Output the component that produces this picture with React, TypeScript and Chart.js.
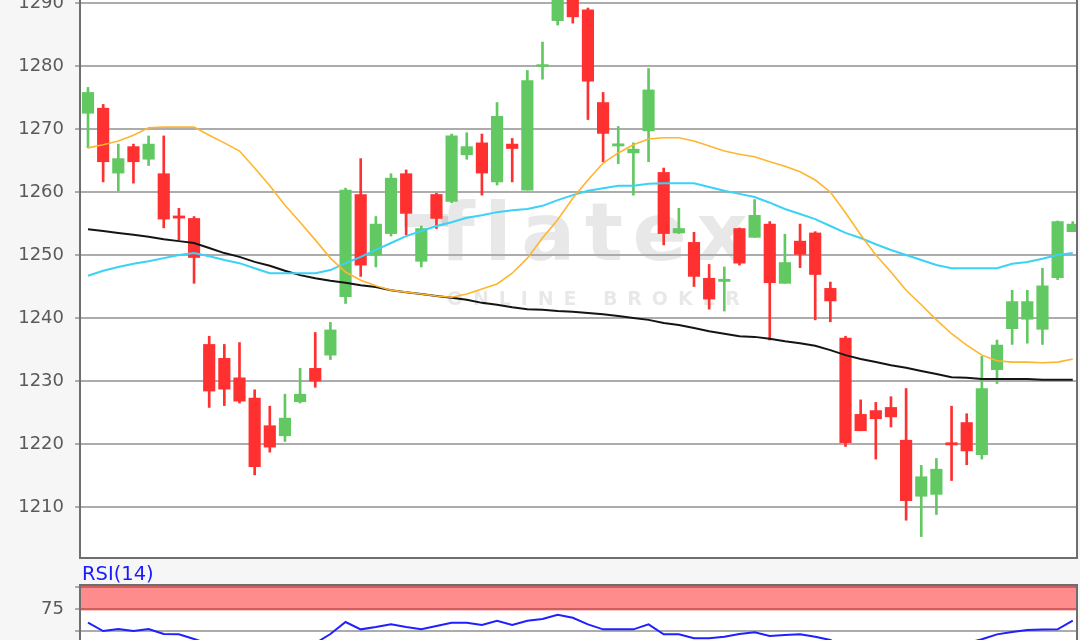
import React, { useEffect, useRef } from 'react';
import { Chart, registerables } from 'chart.js';
Chart.register(...registerables);

// ---- data ----
const opens = [1272.5, 1273.3, 1263.0, 1267.2, 1265.2, 1262.9, 1256.2, 1255.8, 1235.8, 1233.6, 1230.5, 1227.3, 1222.9, 1221.3, 1226.7, 1232.0, 1234.1, 1243.4, 1259.6, 1250.0, 1253.4, 1262.9, 1249.0, 1259.6, 1258.5, 1265.9, 1267.8, 1261.6, 1267.6, 1260.3, 1279.9, 1287.2, 1293.0, 1288.9, 1274.2, 1267.3, 1266.2, 1269.7, 1263.1, 1253.5, 1252.0, 1246.3, 1245.8, 1254.2, 1252.8, 1254.9, 1245.5, 1252.2, 1253.5, 1244.7, 1236.8, 1224.7, 1225.3, 1225.8, 1220.6, 1211.7, 1212.0, 1220.2, 1223.4, 1218.3, 1231.8, 1238.3, 1239.8, 1238.2, 1246.4, 1253.7];
const highs = [1276.6, 1273.9, 1267.6, 1267.6, 1268.9, 1268.9, 1257.4, 1256.1, 1237.1, 1235.8, 1236.1, 1228.6, 1226.0, 1227.9, 1232.0, 1237.7, 1239.3, 1260.6, 1265.3, 1256.1, 1262.9, 1263.5, 1254.6, 1259.8, 1269.2, 1269.4, 1269.2, 1274.2, 1268.5, 1279.3, 1283.8, 1294.0, 1295.0, 1289.2, 1275.8, 1270.4, 1267.8, 1279.6, 1263.8, 1257.4, 1253.6, 1248.5, 1248.1, 1254.3, 1258.8, 1255.3, 1253.3, 1254.9, 1253.7, 1245.7, 1237.1, 1227.0, 1226.6, 1227.5, 1228.8, 1216.6, 1217.7, 1226.0, 1224.8, 1233.9, 1236.5, 1244.4, 1244.4, 1247.9, 1255.4, 1255.3];
const lows = [1267.0, 1261.6, 1260.2, 1261.4, 1264.2, 1254.3, 1252.4, 1245.5, 1225.8, 1226.1, 1226.5, 1215.1, 1218.7, 1220.4, 1226.5, 1229.0, 1233.4, 1242.3, 1246.6, 1248.1, 1253.0, 1253.2, 1248.1, 1254.2, 1258.3, 1265.2, 1259.5, 1261.1, 1261.6, 1260.3, 1277.9, 1286.5, 1286.8, 1271.5, 1264.8, 1264.5, 1259.5, 1264.8, 1251.6, 1253.4, 1245.0, 1241.4, 1241.1, 1248.4, 1252.8, 1236.5, 1245.5, 1248.0, 1239.7, 1239.4, 1219.6, 1222.1, 1217.6, 1222.7, 1207.9, 1205.3, 1208.8, 1214.2, 1216.7, 1217.6, 1229.6, 1235.8, 1236.0, 1235.8, 1246.1, 1253.7];
const closes = [1275.8, 1264.8, 1265.3, 1264.8, 1267.6, 1255.7, 1255.85, 1249.6, 1228.4, 1228.7, 1226.8, 1216.4, 1219.5, 1224.1, 1227.9, 1230.0, 1238.1, 1260.3, 1248.4, 1254.9, 1262.2, 1256.6, 1254.2, 1255.8, 1268.9, 1267.2, 1263.0, 1272.0, 1266.9, 1277.7, 1280.2, 1292.5, 1287.8, 1277.6, 1269.3, 1267.65, 1266.8, 1276.2, 1253.4, 1254.2, 1246.6, 1243.0, 1246.15, 1248.7, 1256.3, 1245.6, 1248.8, 1250.1, 1246.9, 1242.7, 1220.2, 1222.1, 1224.0, 1224.3, 1211.0, 1214.8, 1216.0, 1219.85, 1218.9, 1228.8, 1235.7, 1242.6, 1242.6, 1245.1, 1255.3, 1254.9];
const maOrange = [1267.0, 1267.5, 1268.1, 1269.0, 1270.2, 1270.3, 1270.3, 1270.3, 1269.0, 1267.8, 1266.5, 1263.8, 1261.0, 1257.9, 1255.2, 1252.4, 1249.5, 1247.3, 1246.0, 1245.1, 1244.4, 1244.1, 1243.8, 1243.5, 1243.3, 1243.8, 1244.6, 1245.4, 1247.1, 1249.5, 1252.7, 1255.6, 1259.0, 1261.9, 1264.6, 1266.2, 1267.5, 1268.4, 1268.6, 1268.6, 1268.1, 1267.3, 1266.5, 1266.0, 1265.6, 1264.8, 1264.1, 1263.2, 1261.9, 1260.0, 1256.7, 1253.2, 1250.0, 1247.3, 1244.4, 1242.1, 1239.7, 1237.5, 1235.7, 1234.1, 1233.2, 1233.0, 1233.0, 1232.9, 1233.0, 1233.5];
const maCyan = [1246.7, 1247.5, 1248.1, 1248.6, 1249.0, 1249.5, 1250.0, 1250.3, 1249.8, 1249.2, 1248.7, 1247.9, 1247.1, 1247.1, 1247.1, 1247.1, 1247.6, 1248.7, 1249.7, 1250.8, 1251.9, 1253.0, 1253.8, 1254.6, 1255.2, 1255.9, 1256.3, 1256.8, 1257.1, 1257.3, 1257.8, 1258.7, 1259.5, 1260.2, 1260.6, 1261.0, 1261.0, 1261.3, 1261.4, 1261.4, 1261.4, 1260.8, 1260.2, 1259.7, 1259.2, 1258.3, 1257.3, 1256.5, 1255.7, 1254.6, 1253.5, 1252.7, 1251.7, 1250.8, 1250.0, 1249.2, 1248.4, 1247.9, 1247.9, 1247.9, 1247.9, 1248.6, 1248.9, 1249.4, 1250.0, 1250.3];
const maBlack = [1254.1, 1253.8, 1253.5, 1253.2, 1252.9, 1252.5, 1252.2, 1251.9, 1251.1, 1250.3, 1249.7, 1248.9, 1248.3, 1247.5, 1246.8, 1246.3, 1245.9, 1245.6, 1245.2, 1244.9, 1244.4, 1244.1, 1243.8, 1243.5, 1243.2, 1242.9, 1242.4, 1242.1, 1241.7, 1241.4, 1241.3, 1241.1, 1241.0, 1240.8, 1240.6, 1240.3, 1240.0, 1239.7, 1239.2, 1238.9, 1238.4, 1237.9, 1237.5, 1237.1, 1237.0, 1236.7, 1236.3, 1236.0, 1235.6, 1234.9, 1234.1, 1233.5, 1233.0, 1232.5, 1232.1, 1231.6, 1231.1, 1230.6, 1230.5, 1230.3, 1230.3, 1230.3, 1230.3, 1230.2, 1230.2, 1230.2];
const rsi = [59.4, 50.0, 52.3, 50.0, 52.3, 46.6, 46.2, 40.9, 35, 33, 32, 28, 26, 30, 33, 36, 46.6, 60.2, 51.9, 54.5, 57.6, 54.5, 51.9, 55.7, 59.4, 59.4, 56.8, 61.7, 56.8, 61.7, 63.6, 68.5, 65.1, 57.6, 51.9, 51.9, 51.9, 57.6, 46.2, 46.2, 41.7, 41.7, 43.5, 46.6, 48.5, 44.3, 45.5, 46.2, 43.5, 39.8, 30, 31, 30, 30, 27, 28, 30, 32, 36, 40.6, 46.2, 48.9, 51.1, 51.7, 51.9, 61.7, 61.7];
const priceTicks = [1210, 1220, 1230, 1240, 1250, 1260, 1270, 1280, 1290];
const rsiTicks = [25, 50, 75, 100];
const rsiTickLabels = [25, 75];
const rsiZone = [75, 100];
const rsiTitle = 'RSI(14)';
const watermarkMain = 'flatex';
const watermarkSub = 'ONLINE BROKER';

// ---- styling ----
const UP = '#62c862';
const DOWN = '#ff3030';
const BG = '#f6f6f6';
const GRID = '#acacac';
const BORDER = '#6e6e6e';
const LABEL = '#5a5a5a';
const FONT = 'DejaVu Sans';
const MAIN_TOP = -50; // canvas offset on page
const PAD = 30;

const xScale = { type: 'linear', min: -0.528, max: 65.28, display: false, offset: false };

function frame(key: string) {
  return {
    id: 'frame' + key,
    beforeDraw(chart: any) {
      const { ctx, chartArea: a } = chart;
      ctx.save();
      ctx.fillStyle = '#ffffff';
      ctx.fillRect(a.left, a.top, a.right - a.left, a.bottom - a.top);
      ctx.restore();
    },
    afterDraw(chart: any) {
      const { ctx, chartArea: a } = chart;
      ctx.save();
      ctx.strokeStyle = BORDER;
      ctx.lineWidth = 2;
      ctx.strokeRect(a.left, a.top, a.right - a.left, a.bottom - a.top);
      ctx.restore();
    },
  };
}

function spacedText(ctx: CanvasRenderingContext2D, text: string, left: number, width: number, baseline: number) {
  (ctx as any).letterSpacing = '0px';
  const w = ctx.measureText(text).width;
  const n = Array.from(text).length;
  const sp = (width - w) / (n - 1);
  (ctx as any).letterSpacing = sp + 'px';
  ctx.textAlign = 'left';
  ctx.textBaseline = 'alphabetic';
  ctx.fillText(text, left, baseline);
  (ctx as any).letterSpacing = '0px';
}

const watermark = {
  id: 'watermark',
  beforeDraw(chart: any) {
    const { ctx, chartArea: a } = chart;
    ctx.save();
    ctx.beginPath();
    ctx.rect(a.left, a.top, a.right - a.left, a.bottom - a.top);
    ctx.clip();
    ctx.fillStyle = 'rgba(0,0,0,0.09)';
    // extended crossbar of the logo's "f"
    ctx.fillRect(404, 214 - MAIN_TOP, 44, 13);
    ctx.font = `bold 80px "${FONT}"`;
    spacedText(ctx, watermarkMain, 440, 305, 260 - MAIN_TOP);
    ctx.font = `bold 19px "${FONT}"`;
    spacedText(ctx, watermarkSub, 447, 293, 305 - MAIN_TOP);
    ctx.restore();
  },
};

const rsiBand = {
  id: 'rsiBand',
  beforeDatasetsDraw(chart: any) {
    const { ctx, chartArea: a, scales } = chart;
    const y1 = scales.y.getPixelForValue(rsiZone[1]);
    const y0 = scales.y.getPixelForValue(rsiZone[0]);
    ctx.save();
    ctx.fillStyle = 'rgba(255,0,0,0.45)';
    ctx.fillRect(a.left, y1 - 1.5, a.right - a.left, y0 - y1 + 3);
    ctx.restore();
  },
};

export default function App() {
  const mainRef = useRef<HTMLCanvasElement>(null);
  const rsiRef = useRef<HTMLCanvasElement>(null);

  useEffect(() => {
    const idx = opens.map((_, i) => i);
    const colors = idx.map((i) => (closes[i] >= opens[i] ? UP : DOWN));
    const line = (vals: number[], color: string, w: number) => ({
      type: 'line' as const,
      data: idx.map((i) => ({ x: i, y: vals[i] })),
      borderColor: color,
      borderWidth: w,
      pointRadius: 0,
      tension: 0,
      fill: false,
      order: 0,
    });

    const main = new Chart(mainRef.current!, {
      type: 'bar',
      data: {
        datasets: [
          line(maOrange, '#ffb52e', 1.6),
          line(maCyan, '#3ad2f7', 2),
          line(maBlack, '#141414', 2),
          {
            type: 'bar',
            data: idx.map((i) => ({ x: i, y: [opens[i], closes[i]] })),
            backgroundColor: colors,
            borderWidth: 0,
            barThickness: 11.5,
            minBarLength: 2,
            grouped: false,
            order: 1,
          } as any,
          {
            type: 'bar',
            data: idx.map((i) => ({ x: i, y: [lows[i], highs[i]] })),
            backgroundColor: colors,
            borderWidth: 0,
            barThickness: 2,
            grouped: false,
            order: 2,
          } as any,
        ],
      },
      options: {
        responsive: false,
        animation: false,
        devicePixelRatio: 1,
        events: [],
        layout: { padding: { top: PAD, bottom: PAD, left: 0, right: 3 } },
        plugins: { legend: { display: false }, tooltip: { enabled: false } },
        scales: {
          x: xScale as any,
          y: {
            type: 'linear',
            min: 1201.9,
            max: 1293.65,
            afterBuildTicks: (s: any) => {
              s.ticks = priceTicks.map((v) => ({ value: v }));
            },
            afterFit: (s: any) => {
              s.width = 80;
            },
            ticks: {
              callback: (v: any) => String(v),
              color: LABEL,
              font: { family: FONT, size: 18 },
              padding: 11,
            },
            grid: { color: GRID, lineWidth: 2, tickLength: 5, drawTicks: true },
            border: { display: false },
          },
        },
      },
      plugins: [frame('Main'), watermark],
    });

    const rsiChart = new Chart(rsiRef.current!, {
      type: 'line',
      data: {
        datasets: [
          {
            data: idx.map((i) => ({ x: i, y: rsi[i] })),
            borderColor: '#1f1fff',
            borderWidth: 2,
            pointRadius: 0,
            tension: 0,
            fill: false,
          },
        ],
      },
      options: {
        responsive: false,
        animation: false,
        devicePixelRatio: 1,
        events: [],
        layout: { padding: { top: PAD, bottom: PAD, left: 0, right: 3 } },
        plugins: { legend: { display: false }, tooltip: { enabled: false } },
        scales: {
          x: xScale as any,
          y: {
            type: 'linear',
            min: 0,
            max: 102.3,
            afterBuildTicks: (s: any) => {
              s.ticks = rsiTicks.map((v) => ({ value: v }));
            },
            afterFit: (s: any) => {
              s.width = 80;
            },
            ticks: {
              callback: (v: any) => (rsiTickLabels.includes(Number(v)) ? String(v) : ''),
              color: LABEL,
              font: { family: FONT, size: 18 },
              padding: 11,
            },
            grid: { color: GRID, lineWidth: 2, tickLength: 5, drawTicks: true },
            border: { display: false },
          },
        },
      },
      plugins: [frame('Rsi'), rsiBand],
    });

    return () => {
      main.destroy();
      rsiChart.destroy();
    };
  }, []);

  return (
    <div
      style={{
        position: 'fixed',
        left: 0,
        top: 0,
        width: 1080,
        height: 640,
        overflow: 'hidden',
        background: BG,
      }}
    >
      <canvas
        ref={mainRef}
        width={1080}
        height={578 + 2 * PAD}
        style={{ position: 'absolute', left: 0, top: MAIN_TOP, width: 1080, height: 578 + 2 * PAD }}
      />
      <canvas
        ref={rsiRef}
        width={1080}
        height={90 + 2 * PAD}
        style={{ position: 'absolute', left: 0, top: 585 - PAD, width: 1080, height: 90 + 2 * PAD }}
      />
      <div
        style={{
          position: 'absolute',
          left: 82,
          top: 563,
          fontFamily: FONT,
          fontSize: 19.5,
          lineHeight: '22px',
          color: '#1a1aff',
          zIndex: 2,
        }}
      >
        {rsiTitle}
      </div>
    </div>
  );
}
